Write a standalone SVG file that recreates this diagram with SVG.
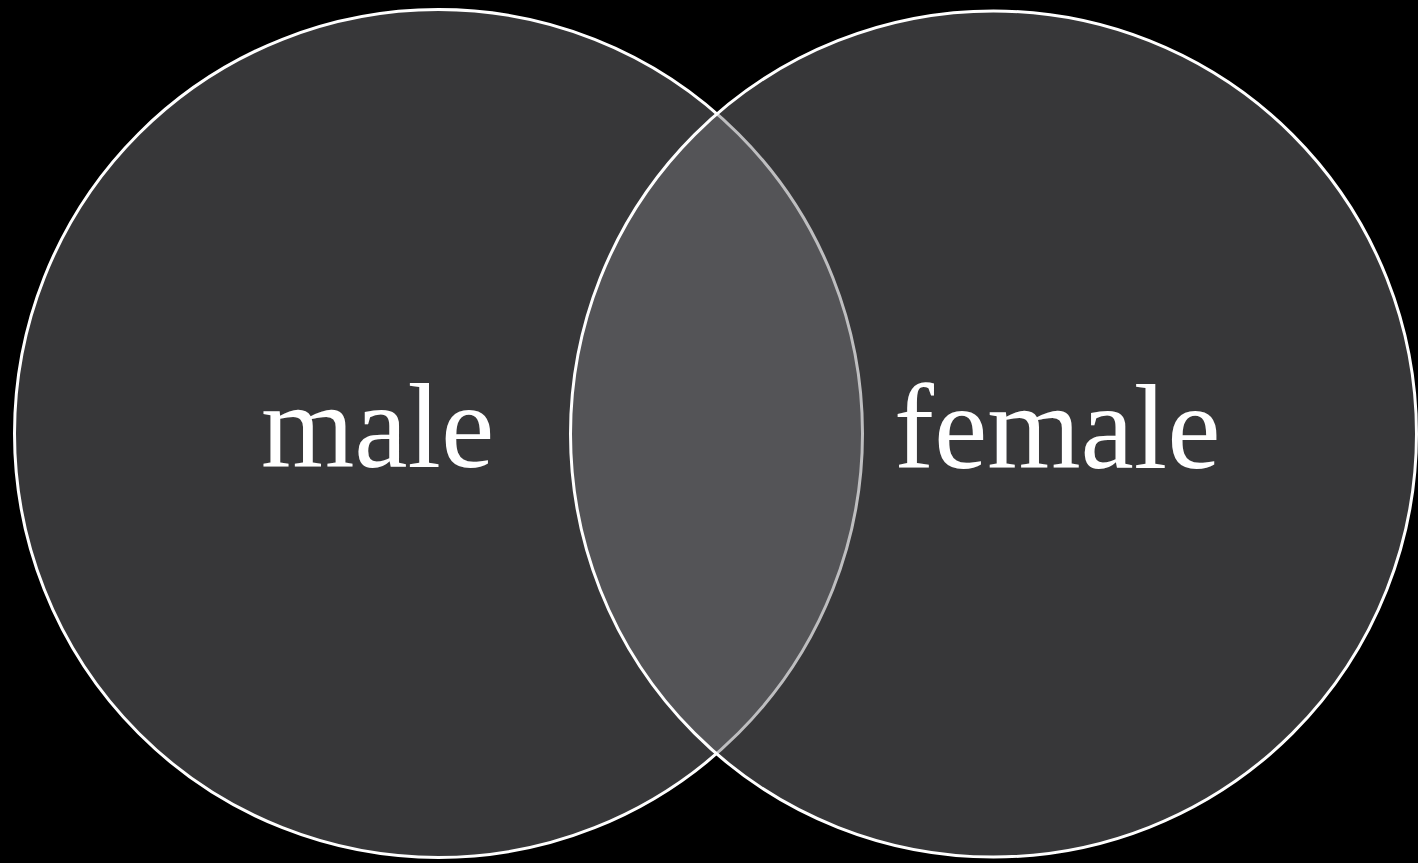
<svg xmlns="http://www.w3.org/2000/svg" width="1418" height="863" viewBox="0 0 1418 863">
<style>
.c{fill:rgb(116,116,121);fill-opacity:0.47;stroke:#ffffff;stroke-width:3}
.t{font-family:"Liberation Serif","Times New Roman",serif;font-size:120px;fill:#ffffff}
</style>
<rect width="1418" height="863" fill="#000000"/>
<g id="male">
<circle class="c" cx="438.5" cy="433.5" r="424"/>
<text class="t" x="261" y="467">male</text>
</g>
<g id="female">
<circle class="c" cx="993.5" cy="434" r="423"/>
<text class="t" x="894" y="468">female</text>
</g>
</svg>
